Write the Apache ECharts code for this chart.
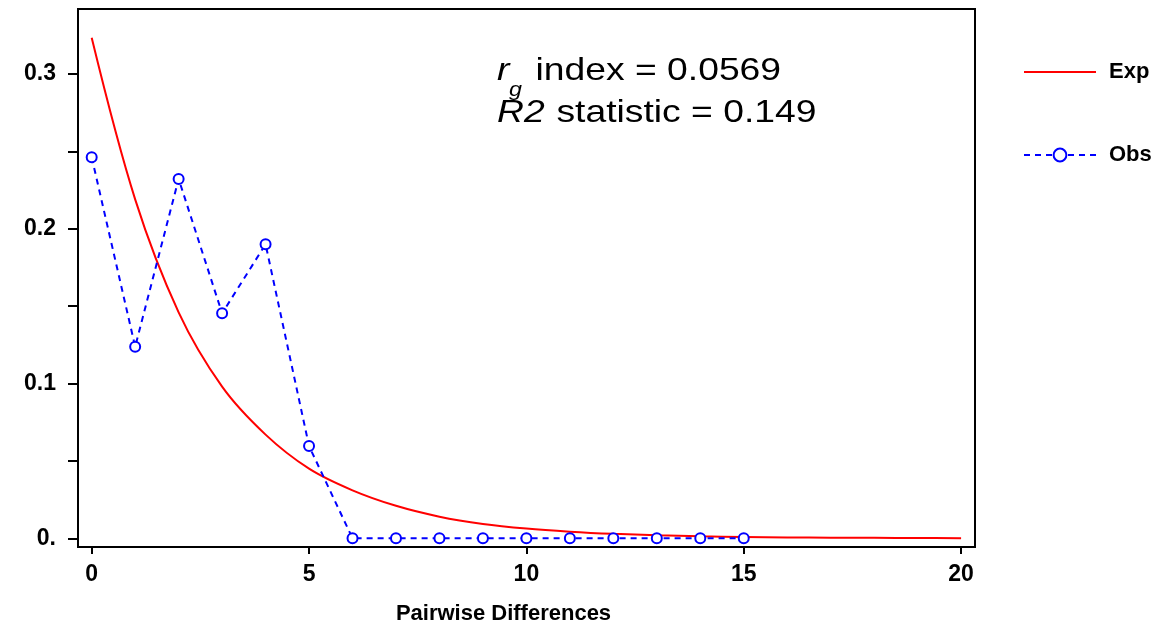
<!DOCTYPE html>
<html>
<head>
<meta charset="utf-8">
<script src="https://cdn.jsdelivr.net/npm/echarts@6/dist/echarts.min.js"></script>
<style>
  html, body { margin: 0; padding: 0; background: #fff; }
  #chart { width: 1158px; height: 624px; }
</style>
</head>
<body>
<div id="chart"></div>
<script>
// ---- data ----
const expX = [0,1,2,3,4,5,6,7,8,9,10,11,12,13,14,15,16,17,18,19,20];
const expY = [0.3234,0.219,0.146,0.098,0.067,0.045,0.031,0.021,0.014,0.0093,0.0063,0.0043,0.0029,0.002,0.0013,0.0009,0.0006,0.0004,0.0003,0.0002,0.0001];
const obsX = [0,1,2,3,4,5,6,7,8,9,10,11,12,13,14,15];
const obsY = [0.2462,0.1238,0.2322,0.1454,0.190,0.0596,0,0,0,0,0,0,0,0,0,0];
const xTickValues = [0,5,10,15,20];
const xTickLabels = ['0','5','10','15','20'];
const yMinorTicks = [0,0.05,0.1,0.15,0.2,0.25,0.3];
const yTickValues = [0,0.1,0.2,0.3];
const yTickLabels = ['0.','0.1','0.2','0.3'];
const seriesNames = ['Exp','Obs'];
const xTitle = 'Pairwise Differences';
const stat1 = { pre: 'r', sub: 'g', rest: 'index = 0.0569' };
const stat2 = { pre: 'R2', rest: 'statistic = 0.149' };

function lookup(vals, labels, v) {
  const i = vals.findIndex(t => Math.abs(t - v) < 1e-9);
  return i >= 0 ? labels[i] : '';
}

const chart = echarts.init(document.getElementById('chart'), null, { renderer: 'canvas' });
const axisFont = { fontFamily: 'Liberation Sans', fontWeight: 'bold', fontSize: 23, color: '#000' };

chart.setOption({
  animation: false,
  backgroundColor: '#fff',
  grid: {
    left: 78, right: 183, top: 9, bottom: 77,
    show: true, borderColor: '#000', borderWidth: 2,
    containLabel: false, outerBoundsMode: 'none'
  },
  legend: {
    orient: 'vertical',
    left: 1018, top: 56,
    itemWidth: 72, itemHeight: 16, itemGap: 61,
    textStyle: { fontFamily: 'Liberation Sans', fontWeight: 'bold', fontSize: 22, color: '#000', padding: [0,0,0,8] },
    data: [
      { name: seriesNames[0], itemStyle: { color: 'rgba(0,0,0,0)', borderWidth: 0, opacity: 0 } },
      { name: seriesNames[1] }
    ]
  },
  xAxis: {
    type: 'value', min: -0.315, max: 20.32,
    name: xTitle, nameLocation: 'middle', nameGap: 56,
    nameTextStyle: { fontFamily: 'Liberation Sans', fontWeight: 'bold', fontSize: 22, color: '#000', padding: [0, 46, 0, 0] },
    axisLine: { onZero: false, lineStyle: { color: '#000', width: 2 } },
    axisTick: { show: true, length: 7, lineStyle: { color: '#000', width: 2 }, customValues: xTickValues },
    axisLabel: { ...axisFont, margin: 16, customValues: xTickValues,
      formatter: v => lookup(xTickValues, xTickLabels, v) },
    splitLine: { show: false }
  },
  yAxis: {
    type: 'value', min: -0.0056, max: 0.342,
    axisLine: { show: true, onZero: false, lineStyle: { color: '#000', width: 2 } },
    axisTick: { show: true, length: 10, lineStyle: { color: '#000', width: 2 }, customValues: yMinorTicks },
    axisLabel: { ...axisFont, margin: 22, customValues: yTickValues,
      formatter: v => lookup(yTickValues, yTickLabels, v) },
    splitLine: { show: false }
  },
  series: [
    {
      name: seriesNames[0], type: 'line',
      data: expX.map((x, i) => [x, expY[i]]),
      showSymbol: false, symbol: 'none',
      smooth: 0.35,
      lineStyle: { color: '#ff0000', width: 2 },
      itemStyle: { color: '#ff0000' },
      z: 2
    },
    {
      name: seriesNames[1], type: 'line',
      data: obsX.map((x, i) => [x, obsY[i]]),
      symbol: 'emptyCircle', symbolSize: 10,
      lineStyle: { color: '#0000ff', width: 2, type: [6, 5] },
      itemStyle: { color: '#0000ff', borderColor: '#0000ff', borderWidth: 2 },
      z: 3
    }
  ],
  graphic: [
    {
      type: 'group', x: 497, y: 0, scaleX: 1.165, scaleY: 1,
      children: [
        { type: 'text', x: 0, y: 71, style: { text: stat1.pre, font: 'italic 32px "Liberation Sans"', fill: '#000', verticalAlign: 'middle' } },
        { type: 'text', x: 10.3, y: 90, style: { text: stat1.sub, font: 'italic 20px "Liberation Sans"', fill: '#000', verticalAlign: 'middle' } },
        { type: 'text', x: 33, y: 71, style: { text: stat1.rest, font: '32px "Liberation Sans"', fill: '#000', verticalAlign: 'middle' } },
        { type: 'text', x: 0, y: 113, style: { text: stat2.pre, font: 'italic 32px "Liberation Sans"', fill: '#000', verticalAlign: 'middle' } },
        { type: 'text', x: 51, y: 113, style: { text: stat2.rest, font: '32px "Liberation Sans"', fill: '#000', verticalAlign: 'middle' } }
      ]
    }
  ]
});
</script>
</body>
</html>
